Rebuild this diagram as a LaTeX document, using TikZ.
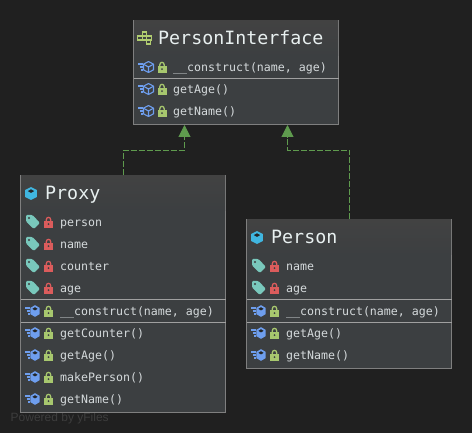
\documentclass[tikz,border=0pt]{standalone}
\usepackage{fontspec}
\newfontfamily\monof{DejaVu Sans Mono}
\setsansfont{Liberation Sans}
\usetikzlibrary{arrows.meta,calc}
\definecolor{bgc}{HTML}{202020}
\definecolor{boxc}{HTML}{3C3F41}
\definecolor{headc}{HTML}{424242}
\definecolor{edgec}{HTML}{7F7F7F}
\definecolor{sepc}{HTML}{A0A0A0}
\definecolor{txtc}{HTML}{D5DADC}
\definecolor{titlec}{HTML}{E8F0F0}
\definecolor{depc}{HTML}{5F9B4E}
\definecolor{cubec}{HTML}{40B6E0}
\definecolor{methc}{HTML}{6E9EEE}
\definecolor{tagc}{HTML}{79C8BC}
\definecolor{redc}{HTML}{DB5C5C}
\definecolor{grnc}{HTML}{A7C76E}
\definecolor{ifacec}{HTML}{B0CC70}
\tikzset{
  x=1pt,y=-1pt,
  umlbox/.style={draw=edgec,fill=boxc,line width=1pt,inner sep=0pt,outer sep=0pt},
  member/.style={anchor=base west,inner sep=0pt,text=txtc,font=\monof\fontsize{11.6}{14}\selectfont},
  titletext/.style={anchor=base west,inner sep=0pt,text=titlec,font=\monof\fontsize{18.3}{22}\selectfont},
  sepline/.style={draw=sepc,line width=1pt},
  dep/.style={draw=depc,line width=1pt,dash pattern=on 6pt off 2pt,-{Triangle[length=12pt,width=12pt,fill=depc]}},
  lockp/.pic={
    \fill[pic actions] (-4,-0.5) rectangle (4,5);
    \draw[pic actions,fill=none,line width=1.3pt] (-2.2,-0.5) -- (-2.2,-2.2) .. controls (-2.2,-5.4) and (2.2,-5.4) .. (2.2,-2.2) -- (2.2,-0.5);
    \fill[boxc] (0,2.2) circle (1);
  },
  solidcube/.pic={
    \fill[pic actions] (0,-6.5) -- (5.8,-3.5) -- (5.8,3.5) -- (0,6.5) -- (-5.8,3.5) -- (-5.8,-3.5) -- cycle;
    \fill[boxc!60!black] (0,-4.2) -- (3.2,-2.4) -- (0,-0.6) -- (-3.2,-2.4) -- cycle;
  },
  outlinecube/.pic={
    \draw[pic actions,fill=none,line width=1.1pt,line join=round] (0,-5.5) -- (5,-2.8) -- (5,2.8) -- (0,5.5) -- (-5,2.8) -- (-5,-2.8) -- cycle;
    \draw[pic actions,fill=none,line width=1.1pt] (-5,-2.8) -- (0,0) -- (5,-2.8) (0,0) -- (0,5.5);
  },
  speedlines/.pic={
    \draw[pic actions,fill=none,line width=1.1pt] (0,-3) -- (5,-3) (1.5,0) -- (5,0) (3,3) -- (5,3);
  },
  tagp/.pic={
    \fill[pic actions,rounded corners=1.2pt] (-7,-7) -- (-0.5,-7) -- (7,1) -- (0.8,7) -- (-7,-0.5) -- cycle;
    \fill[boxc] (-4,-4) circle (1.1);
  },
  ifacep/.pic={
    \draw[pic actions,fill=none,line width=1.1pt] (-2,-6) rectangle (2,-2) (-7,-2) rectangle (-2,2) (-2,-2) rectangle (2,2) (2,-2) rectangle (7,2) (2,2) rectangle (6,6) (-2,2) rectangle (2,2);
  },
}
\newcommand{\fieldrow}[4]{% name, box-left x, y, text
  \pic[fill=tagc] at (#2+12.5,#3) {tagp};
  \pic[fill=redc,draw=redc] at (#2+28,#3) {lockp};
  \node[member] (#1) at (#2+39.5,#3+4.3) {#4};
}
\newcommand{\methrow}[4]{%
  \pic[draw=methc] at (#2+4.5,#3) {speedlines};
  \pic[fill=methc,xscale=0.8,yscale=0.9] at (#2+14.5,#3) {solidcube};
  \pic[fill=grnc,draw=grnc] at (#2+28,#3) {lockp};
  \node[member] (#1) at (#2+39.5,#3+4.3) {#4};
}
\newcommand{\ifmethrow}[4]{%
  \pic[draw=methc] at (#2+4.5,#3) {speedlines};
  \pic[draw=methc] at (#2+15,#3) {outlinecube};
  \pic[fill=grnc,draw=grnc] at (#2+28.5,#3) {lockp};
  \node[member] (#1) at (#2+39.5,#3+4.3) {#4};
}
\newcommand{\headshade}[3]{% left, top, bottom
  \shade[top color=headc,bottom color=boxc] (#1+0.5,#2+0.5) rectangle (#1+204.5,#3);
}
\begin{document}
\begin{tikzpicture}
\useasboundingbox (0,0) rectangle (472,433);
\fill[bgc] (0,0) rectangle (472,433);

\node[anchor=base west,inner sep=0pt,text=white!13!bgc,font=\sffamily\fontsize{12}{14}\selectfont] (powered) at (10.5,421) {Powered by yFiles};

% PersonInterface
\node[umlbox,minimum width=205pt,minimum height=104pt] (iface) at (236,72.5) {};
\headshade{133.5}{20.5}{56}
\draw[sepline] (133.5,78.5) -- (338.5,78.5);
\pic[draw=ifacec] at (144.5,38) {ifacep};
\node[titletext] (ifacetitle) at (158,44.5) {PersonInterface};
\ifmethrow{ifa}{133.5}{67}{\_\_construct(name, age)}
\ifmethrow{ifb}{133.5}{89}{getAge()}
\ifmethrow{ifc}{133.5}{111}{getName()}

% Proxy
\node[umlbox,minimum width=205pt,minimum height=237pt] (proxy) at (123,294) {};
\headshade{20.5}{175.5}{211}
\draw[sepline] (20.5,299.5) -- (225.5,299.5);
\draw[sepline] (20.5,322.5) -- (225.5,322.5);
\pic[fill=cubec] at (31,193.5) {solidcube};
\node[titletext] (proxytitle) at (45,199.5) {Proxy};
\fieldrow{pa}{20.5}{222}{person}
\fieldrow{pb}{20.5}{244}{name}
\fieldrow{pc}{20.5}{266}{counter}
\fieldrow{pd}{20.5}{288}{age}
\methrow{pe}{20.5}{311}{\_\_construct(name, age)}
\methrow{pf}{20.5}{333}{getCounter()}
\methrow{pg}{20.5}{355}{getAge()}
\methrow{ph}{20.5}{377}{makePerson()}
\methrow{pi}{20.5}{399}{getName()}

% Person
\node[umlbox,minimum width=205pt,minimum height=149pt] (person) at (349,294) {};
\headshade{246.5}{219.5}{255}
\draw[sepline] (246.5,299.5) -- (451.5,299.5);
\draw[sepline] (246.5,322.5) -- (451.5,322.5);
\pic[fill=cubec] at (257,237.5) {solidcube};
\node[titletext] (persontitle) at (271,243.5) {Person};
\fieldrow{qa}{246.5}{266}{name}
\fieldrow{qb}{246.5}{288}{age}
\methrow{qc}{246.5}{311}{\_\_construct(name, age)}
\methrow{qd}{246.5}{333}{getAge()}
\methrow{qe}{246.5}{355}{getName()}

% Connectors
\coordinate (s1) at ($(proxy.north)+(0.5,0)$);
\coordinate (s2) at ($(person.north)+(0.5,0)$);
\coordinate (t1) at ($(iface.south)+(-51.5,0.5)$);
\coordinate (t2) at ($(iface.south)+(51.5,0.5)$);
\coordinate (m1) at (184.5,150.5);
\coordinate (m2) at (287.5,150.5);
\draw[dep] (s1) |- (m1) -- (t1);
\draw[dep] (s2) |- (m2) -- (t2);
\end{tikzpicture}
\end{document}
